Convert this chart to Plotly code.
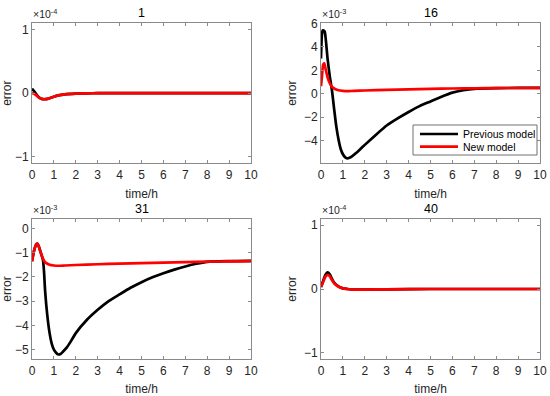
import plotly.graph_objects as go

# ---------------- data (values shown in units of the axis exponent) ----------------
titles = ["1", "16", "31", "40"]
exponents = ["-4", "-3", "-3", "-4"]
legend_names = ["Previous model", "New model"]
colors = ["black", "red"]

# Panel "1" (x1e-4)
t1_prev = [0, 0.1, 0.2, 0.3, 0.4, 0.5, 0.6, 0.7, 0.8, 1.0, 1.2, 1.5, 2.0, 2.5, 3.0, 4, 6, 8, 10]
e1_prev = [0.07, 0.03, -0.02, -0.06, -0.085, -0.095, -0.095, -0.09, -0.08, -0.055, -0.035, -0.018, -0.007, -0.003, 0, 0, 0, 0, 0]
t1_new = [0, 0.1, 0.2, 0.3, 0.4, 0.5, 0.6, 0.7, 0.8, 1.0, 1.2, 1.5, 2.0, 2.5, 3.0, 4, 6, 8, 10]
e1_new = [0.0, -0.01, -0.035, -0.065, -0.085, -0.095, -0.095, -0.09, -0.08, -0.055, -0.035, -0.018, -0.007, -0.003, 0, 0, 0, 0, 0]

# Panel "16" (x1e-3)
t2_prev = [0, 0.04, 0.08, 0.12, 0.17, 0.22, 0.3, 0.4, 0.5, 0.6, 0.7, 0.8, 0.9, 1.0, 1.1, 1.2, 1.3,
           1.4, 1.6, 1.8, 2.0, 2.5, 3.0, 3.5, 4.0, 4.5, 5.0, 5.5, 6.0, 6.5, 7.0, 8.0, 9.0, 10.0]
e2_prev = [3.0, 5.0, 5.4, 5.4, 5.3, 4.6, 3.0, 1.5, 0.3, -1.3, -2.8, -3.9, -4.7, -5.15, -5.4, -5.5, -5.45,
           -5.35, -5.05, -4.7, -4.35, -3.5, -2.7, -2.1, -1.55, -1.05, -0.65, -0.25, 0.1, 0.3, 0.42, 0.48, 0.5, 0.5]
t2_new = [0, 0.05, 0.1, 0.15, 0.2, 0.3, 0.4, 0.5, 0.6, 0.8, 1.0, 1.2, 1.5, 2, 3, 4, 5, 6, 7, 8, 10]
e2_new = [0.65, 1.6, 2.5, 2.6, 2.2, 1.4, 0.9, 0.6, 0.45, 0.3, 0.25, 0.22, 0.25, 0.28, 0.33, 0.38, 0.42, 0.45, 0.47, 0.49, 0.5]

# Panel "31" (x1e-3)
t3_prev = [0, 0.1, 0.2, 0.25, 0.3, 0.4, 0.5, 0.55, 0.6, 0.7, 0.8, 0.9, 1.0, 1.1, 1.2, 1.3, 1.4, 1.6, 1.8,
           2.0, 2.5, 3.0, 3.5, 4.0, 4.5, 5.0, 5.5, 6.0, 6.5, 7.0, 7.5, 8.0, 9.0, 10.0]
e3_prev = [-1.36, -0.9, -0.65, -0.63, -0.72, -1.0, -1.3, -1.8, -2.6, -3.6, -4.3, -4.75, -5.0, -5.13, -5.2, -5.18,
           -5.1, -4.9, -4.62, -4.32, -3.78, -3.36, -3.0, -2.72, -2.45, -2.22, -2.02, -1.85, -1.7, -1.57, -1.46,
           -1.38, -1.35, -1.34]
t3_new = [0, 0.1, 0.2, 0.25, 0.3, 0.4, 0.5, 0.6, 0.8, 1.0, 1.2, 1.5, 2, 3, 4, 5, 6, 7, 8, 9, 10]
e3_new = [-1.36, -0.9, -0.65, -0.63, -0.72, -1.0, -1.25, -1.4, -1.5, -1.53, -1.54, -1.53, -1.51, -1.48,
          -1.45, -1.43, -1.41, -1.39, -1.37, -1.36, -1.35]

# Panel "40" (x1e-4)
t4_prev = [0, 0.1, 0.2, 0.3, 0.4, 0.5, 0.6, 0.8, 1.0, 1.2, 1.5, 2.0, 3.0, 5, 10]
e4_prev = [0.03, 0.13, 0.22, 0.26, 0.23, 0.16, 0.1, 0.04, 0.01, 0.0, -0.01, -0.01, -0.005, 0, 0]
t4_new = [0, 0.1, 0.2, 0.3, 0.4, 0.5, 0.6, 0.8, 1.0, 1.2, 1.5, 2.0, 3.0, 5, 10]
e4_new = [0.03, 0.11, 0.19, 0.22, 0.2, 0.14, 0.09, 0.035, 0.01, 0.0, -0.01, -0.01, -0.005, 0, 0]

y_ranges = [[-1.1, 1.1], [-5.92, 6.03], [-5.4, 0.4], [-1.1, 1.1]]
y_ticks = [[-1, 0, 1], [-4, -2, 0, 2, 4, 6], [-5, -4, -3, -2, -1, 0], [-1, 0, 1]]
x_ticks = list(range(0, 11))

series = [
    (t1_prev, e1_prev, t1_new, e1_new),
    (t2_prev, e2_prev, t2_new, e2_new),
    (t3_prev, e3_prev, t3_new, e3_new),
    (t4_prev, e4_prev, t4_new, e4_new),
]

# ---------------- layout geometry ----------------
W, H = 550, 396
px_x = [(32, 251), (321, 540), (32, 251), (321, 540)]
px_y = [(23, 163.3), (23, 163.3), (218.7, 359.3), (218.7, 359.3)]

FONT = "Liberation Sans, Arial, sans-serif"
AX_COL = "#8a8a8a"
TXT = "#262626"
LW = 2.7


def px(x, y):
    return x / W, 1 - y / H


fig = go.Figure()
for i, (tp, ep, tn, en) in enumerate(series):
    xa = "x" if i == 0 else f"x{i+1}"
    ya = "y" if i == 0 else f"y{i+1}"
    fig.add_trace(go.Scatter(x=tp, y=ep, mode="lines", xaxis=xa, yaxis=ya,
                             line=dict(color=colors[0], width=LW, shape="spline", smoothing=0.6),
                             name=legend_names[0], showlegend=False, hoverinfo="skip"))
    fig.add_trace(go.Scatter(x=tn, y=en, mode="lines", xaxis=xa, yaxis=ya,
                             line=dict(color=colors[1], width=LW, shape="spline", smoothing=0.6),
                             name=legend_names[1], showlegend=False, hoverinfo="skip"))

layout = dict(
    width=W, height=H,
    margin=dict(l=0, r=0, t=0, b=0, autoexpand=False),
    paper_bgcolor="white", plot_bgcolor="white",
    font=dict(family=FONT, size=12, color=TXT),
    showlegend=False,
    annotations=[],
    shapes=[],
)

for i in range(4):
    xk = "xaxis" if i == 0 else f"xaxis{i+1}"
    yk = "yaxis" if i == 0 else f"yaxis{i+1}"
    xa = "x" if i == 0 else f"x{i+1}"
    ya = "y" if i == 0 else f"y{i+1}"
    (x0, x1), (yt, yb) = px_x[i], px_y[i]
    layout[xk] = dict(domain=[x0 / W, x1 / W], range=[0, 10], anchor=ya, automargin=False,
                      tickvals=x_ticks, ticks="inside", ticklen=3, tickcolor=AX_COL,
                      showline=True, linecolor=AX_COL, linewidth=1, mirror="ticks",
                      showgrid=False, zeroline=False,
                      tickfont=dict(size=12, color=TXT),
                      title=dict(text="time/h", font=dict(size=12, color=TXT), standoff=8))
    layout[yk] = dict(domain=[1 - yb / H, 1 - yt / H], range=y_ranges[i], anchor=xa, automargin=False,
                      tickvals=y_ticks[i], ticks="inside", ticklen=3, tickcolor=AX_COL,
                      showline=True, linecolor=AX_COL, linewidth=1, mirror="ticks",
                      showgrid=False, zeroline=False,
                      tickfont=dict(size=12, color=TXT),
                      title=dict(text="error", font=dict(size=12, color=TXT), standoff=4))
    layout["annotations"].append(dict(
        text=titles[i], x=(x0 + x1) / 2 / W, y=1 - (yt - 1) / H, xref="paper", yref="paper",
        xanchor="center", yanchor="bottom", showarrow=False,
        font=dict(size=12.5, color="black")))
    layout["annotations"].append(dict(
        text="×10<sup>" + exponents[i] + "</sup>", x=(x0 - 1) / W, y=1 - (yt - 1) / H,
        xref="paper", yref="paper", xanchor="left", yanchor="bottom", showarrow=False,
        font=dict(size=10.5, color=TXT)))

# ---------------- legend box in panel "16" ----------------
bx0, by0 = px(413, 125)
bx1, by1 = px(537, 155)
layout["shapes"].append(dict(type="rect", xref="paper", yref="paper", x0=bx0, x1=bx1, y0=by1, y1=by0,
                             line=dict(color="#707070", width=1), fillcolor="white", layer="above"))
for k, yy in enumerate([134, 146.7]):
    lx0, ly = px(420, yy)
    lx1, _ = px(458, yy)
    layout["shapes"].append(dict(type="line", xref="paper", yref="paper", x0=lx0, x1=lx1, y0=ly, y1=ly,
                                 line=dict(color=colors[k], width=LW), layer="above"))
    tx, _ = px(461, yy)
    layout["annotations"].append(dict(text=legend_names[k], x=tx, y=ly, xref="paper", yref="paper",
                                      xanchor="left", yanchor="middle", showarrow=False,
                                      font=dict(size=10.5, color="black")))

fig.update_layout(**layout)
fig.write_html("out.html", config={"displayModeBar": False},
               post_script="document.body.style.margin='0';document.body.style.padding='0';")
